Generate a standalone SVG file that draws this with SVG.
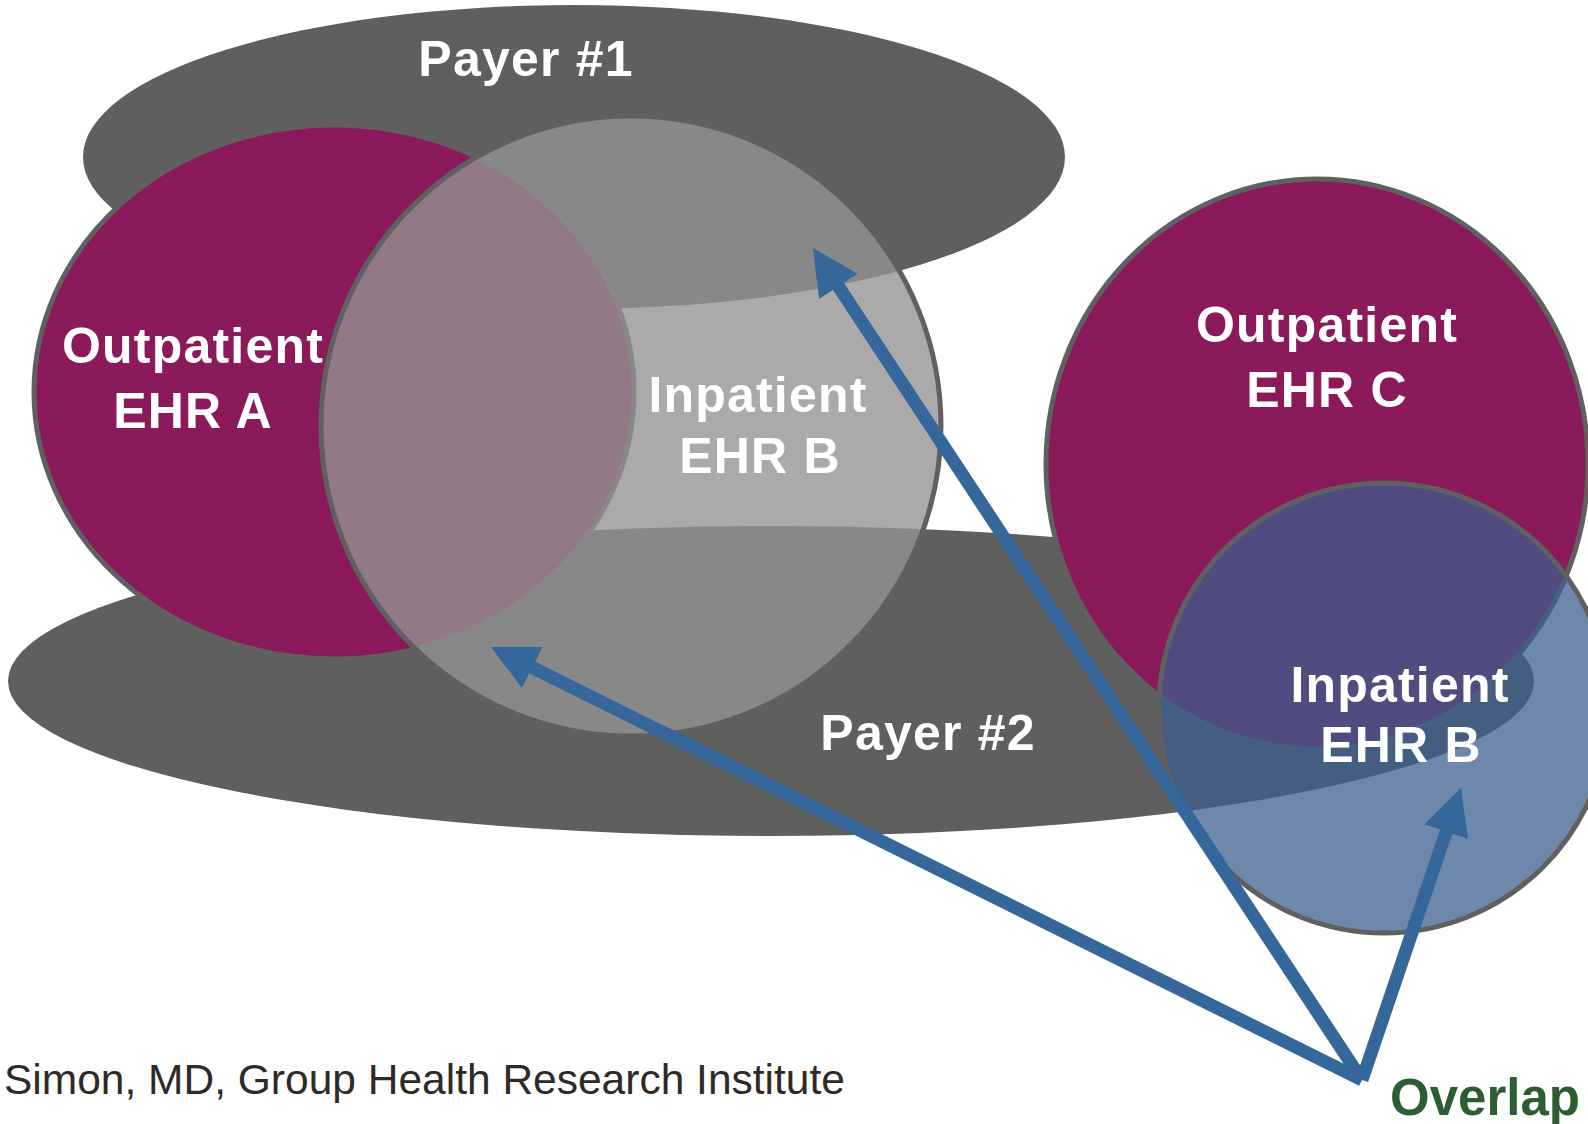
<svg xmlns="http://www.w3.org/2000/svg" width="1588" height="1124" viewBox="0 0 1588 1124">
<style>
.payer{fill:#5f5f5f;stroke:none}
.outp{fill:#8b1a5b;stroke:#606060;stroke-width:5}
.inpL{fill:#939393;fill-opacity:0.79;stroke:#606060;stroke-width:5}
.inpR{fill:#3b5e8e;fill-opacity:0.74;stroke:#606060;stroke-width:5}
.lbl{font-family:"Liberation Sans",Arial,sans-serif;font-weight:bold;font-size:50px;fill:#ffffff;text-anchor:middle;letter-spacing:1.2px}
.arrow{stroke:#35679b;stroke-width:13;fill:none;marker-end:url(#ah)}
</style>
<defs>
<marker id="ah" markerUnits="userSpaceOnUse" markerWidth="60" markerHeight="60" viewBox="-5 -30 60 60" refX="2" refY="0" orient="auto">
<path d="M46,0 L0,-23 L0,23 Z" fill="#35679b"/>
</marker>
</defs>
<rect width="1588" height="1124" fill="#ffffff"/>
<g id="payer1"><ellipse class="payer" cx="574" cy="157" rx="491" ry="152"/></g>
<g id="payer2"><ellipse class="payer" cx="771" cy="681" rx="763" ry="155"/></g>
<g id="outpatientA"><ellipse class="outp" cx="334" cy="392" rx="300" ry="267"/></g>
<g id="outpatientC"><ellipse class="outp" cx="1317" cy="464" rx="271" ry="285"/></g>
<g id="inpatientB1"><circle class="inpL" cx="631" cy="426" r="310"/></g>
<g id="inpatientB2"><circle class="inpR" cx="1384" cy="708" r="225"/></g>
<g id="connectors">
<line class="arrow" x1="1362" y1="1080" x2="837.2" y2="284.7"/>
<line class="arrow" x1="1362" y1="1080" x2="530.4" y2="666.6"/>
<line class="arrow" x1="1362" y1="1080" x2="1446.9" y2="829.7"/>
</g>
<g id="labels">
<text class="lbl" x="526" y="76">Payer #1</text>
<text class="lbl" x="193" y="363">Outpatient</text>
<text class="lbl" x="193" y="428">EHR A</text>
<text class="lbl" x="758" y="412">Inpatient</text>
<text class="lbl" x="760" y="473">EHR B</text>
<text class="lbl" x="1327" y="342">Outpatient</text>
<text class="lbl" x="1327" y="407">EHR C</text>
<text class="lbl" x="1400" y="702">Inpatient</text>
<text class="lbl" x="1401" y="762">EHR B</text>
<text class="lbl" x="928" y="750">Payer #2</text>
<text x="4" y="1094" font-family="Liberation Sans, Arial, sans-serif" font-size="42.5" fill="#2e2a26">Simon, MD, Group Health Research Institute</text>
<text x="1390" y="1115" font-family="Liberation Sans, Arial, sans-serif" font-weight="bold" font-size="51" fill="#2d5e32">Overlap</text>
</g>
</svg>
